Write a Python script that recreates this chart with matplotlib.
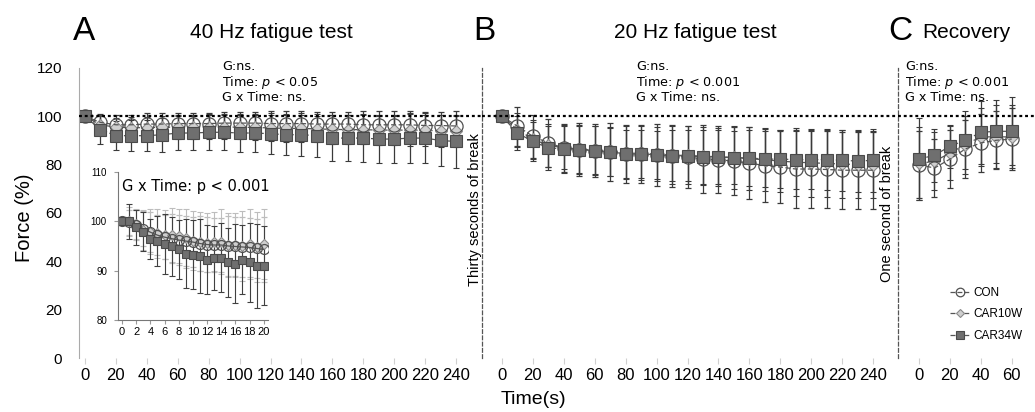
import matplotlib
matplotlib.use("Agg")
from matplotlib import pyplot as plt
from matplotlib import font_manager
from matplotlib.lines import Line2D

# %%
names = {f.name for f in font_manager.fontManager.ttflist}
narrow = 'Liberation Sans Narrow' if 'Liberation Sans Narrow' in names else 'Liberation Sans'
sans = 'Liberation Sans'
plt.rcParams['font.family'] = [sans, 'DejaVu Sans']

# %% data
time_fatigue = [0, 10, 20, 30, 40, 50, 60, 70, 80, 90, 100, 110, 120,
                130, 140, 150, 160, 170, 180, 190, 200, 210, 220, 230, 240]
time_recovery = [0, 10, 20, 30, 40, 50, 60]
time_inset = [0, 1, 2, 3, 4, 5, 6, 7, 8, 9, 10, 11, 12, 13, 14, 15, 16, 17, 18, 19, 20]

groups = ['CON', 'CAR10W', 'CAR34W']

# A: 40 Hz fatigue test
a_con = [100, 97.5, 96.5, 96.5, 96.8, 96.8, 97.0, 97.0, 97.0, 97.2, 97.2, 97.2, 97.0,
         97.0, 97.0, 96.8, 96.8, 96.8, 96.5, 96.5, 96.5, 96.5, 96.2, 96.2, 96.0]
a_car10 = [100, 96.5, 95.5, 95.3, 95.3, 95.5, 95.5, 95.5, 95.6, 95.6, 95.5, 95.4, 95.2,
           95.0, 95.0, 94.8, 94.6, 94.5, 94.5, 94.3, 94.3, 94.3, 94.2, 94.0, 93.8]
a_car34 = [100, 94.5, 92.0, 92.0, 92.0, 92.4, 93.1, 93.1, 93.4, 93.4, 93.1, 93.1, 92.8,
           92.4, 92.4, 92.0, 91.0, 91.0, 91.0, 90.6, 90.6, 91.0, 91.0, 90.0, 89.6]
a_con_sd = [0, 3.5, 4, 4, 4.5, 4.5, 4.5, 4.5, 4.5, 4.5, 4.5, 4.5, 5,
            5, 5, 5, 5, 5, 5.5, 5.5, 5.5, 5.5, 5.5, 5.5, 6]
a_car10_sd = [0, 3.5, 4, 4.5, 4.5, 4.5, 5, 5, 5, 5, 5, 5, 5.5,
              5.5, 5.5, 5.5, 6, 6, 6, 6, 6, 6.5, 6.5, 6.5, 6.5]
a_car34_sd = [0, 6, 6, 6.5, 6.5, 7, 7, 7, 7.5, 7.5, 8, 8, 8.5,
              8.5, 9, 9, 9.5, 9.5, 10, 10, 10, 10.5, 10.5, 10.5, 11]

# B: 20 Hz fatigue test
b_con = [100, 95.9, 91.7, 89.0, 86.9, 86.2, 85.8, 85.2, 84.6, 84.4, 84.0, 83.6, 83.2,
         82.3, 82.1, 81.4, 80.7, 79.6, 79.0, 78.2, 78.2, 78.0, 77.7, 77.7, 77.7]
b_car10 = [100, 94.5, 90.5, 88.0, 87.0, 86.5, 86.0, 85.5, 85.0, 84.8, 84.4, 84.0, 83.8,
           83.5, 83.3, 83.0, 82.5, 82.0, 81.5, 81.0, 80.8, 80.5, 80.3, 80.0, 80.0]
b_car34 = [100, 93.1, 89.6, 86.9, 86.6, 86.2, 85.8, 85.2, 84.5, 84.5, 84.1, 83.7, 83.7,
           83.2, 83.2, 82.8, 82.8, 82.3, 82.3, 82.1, 82.1, 82.1, 81.8, 81.5, 81.8]
b_con_sd = [0, 8, 9, 10, 10, 11, 11, 12, 12, 12, 13, 13, 13,
            14, 14, 14, 15, 15, 15, 16, 16, 16, 16, 16, 16]
b_car10_sd = [0, 7, 8, 9, 9, 10, 10, 10, 11, 11, 11, 12, 12,
              12, 12, 13, 13, 13, 13, 14, 14, 14, 14, 14, 14]
b_car34_sd = [0, 7, 8, 9, 10, 10, 10, 10, 10, 10, 10, 10.5, 10.5,
              11, 11, 11, 11.5, 11.5, 12, 12, 12, 12.5, 12.5, 13, 13]

# C: recovery
c_con = [80.0, 78.6, 82.3, 86.5, 89.0, 90.1, 90.6]
c_car10 = [80.5, 81.4, 84.8, 88.3, 91.5, 91.5, 91.5]
c_car34 = [82.3, 83.9, 87.6, 90.1, 93.4, 93.8, 93.8]
c_con_sd = [14, 12, 12, 12, 12, 12, 13]
c_car10_sd = [15, 12, 11, 12, 12, 13, 13]
c_car34_sd = [17, 11, 9, 12, 13, 13, 14]

# inset of A: first 20 contractions
i_con = [100, 99.8, 99.3, 98.5, 97.8, 97.2, 96.8, 96.5, 96.2, 96.0, 95.8,
         95.5, 95.3, 95.2, 95.2, 95.0, 94.9, 94.8, 94.7, 94.5, 94.3]
i_car10 = [100, 100, 99.5, 98.2, 97.9, 97.6, 97.3, 97.2, 97.0, 96.6, 96.1,
           95.9, 95.7, 95.9, 95.9, 95.2, 95.2, 95.0, 95.4, 94.8, 95.4]
i_car34 = [100, 100, 98.8, 97.9, 96.4, 96.0, 95.4, 94.9, 94.3, 93.4, 93.2,
           93.0, 92.2, 92.6, 92.6, 91.7, 91.4, 92.2, 91.7, 91.0, 91.0]
i_con_sd = [0, 2.5, 3, 3.5, 4, 4, 4.5, 5, 5, 5, 5, 5.5, 5.5, 5.5, 5.5, 6, 6, 6, 6, 6, 6.5]
i_car10_sd = [0, 3, 3, 4, 4.5, 5, 5, 5.5, 5.5, 6, 6, 6, 6, 6, 6.5, 6.5, 6.5, 7, 7, 7, 7]
i_car34_sd = [0, 3.5, 3.5, 4, 4, 5, 6, 6, 6, 7, 7, 7.5, 7, 6.5, 7, 7, 8, 7, 8, 8.5, 8]

# %% styles
style = {
    'CON': dict(marker='o', mfc='none', mec='#505050', ms=9.5, mew=0.9),
    'CAR10W': dict(marker='D', mfc='#cfcfcf', mec='#8a8a8a', ms=6.5, mew=0.8),
    'CAR34W': dict(marker='s', mfc='#6f6f6f', mec='#4a4a4a', ms=8, mew=0.8),
}
W, H = 1035, 412


def rect(x0, y0, x1, y1):
    return [x0 / W, 1 - y1 / H, (x1 - x0) / W, (y1 - y0) / H]


def draw_series(ax, t, series, sds, ecolor='#3a3a3a'):
    for g in ['CAR10W', 'CON', 'CAR34W']:
        ax.errorbar(t, series[g], yerr=sds[g], ls='--', dashes=(4, 2), lw=0.9,
                    color='#555555', ecolor=ecolor, elinewidth=0.9, capsize=2.2,
                    capthick=0.9, **style[g])


def base_axes(ax, xlim, xticks, left_dashed):
    ax.set_xlim(*xlim)
    ax.set_ylim(0, 120)
    ax.set_xticks(xticks)
    ax.set_xticklabels([str(v) for v in xticks], family=narrow, fontsize=12)
    ax.tick_params(axis='x', length=4, color='#d0d0d0', pad=3)
    for s in ['top', 'right', 'bottom']:
        ax.spines[s].set_visible(False)
    if left_dashed:
        ax.spines['left'].set_linestyle((0, (3, 2)))
        ax.spines['left'].set_color('#555555')
        ax.spines['left'].set_linewidth(0.9)
        ax.set_yticks([])
    else:
        ax.spines['left'].set_color('#aaaaaa')
        ax.set_yticks([0, 20, 40, 60, 80, 100, 120])
        ax.tick_params(axis='y', length=0, labelsize=11, pad=12)
    ax.axhline(100, color='black', ls=(0, (1.3, 1.3)), lw=1.6, zorder=5)
    ax.patch.set_alpha(0)


fig = plt.figure(figsize=(W / 100, H / 100), dpi=100)

px = 1.546  # pixels per second
ax_a = fig.add_axes(rect(79, 68, 482, 358))
base_axes(ax_a, (-(85 - 79) / px, (482 - 85) / px), time_fatigue[::2], False)
ax_b = fig.add_axes(rect(482, 68, 898, 358))
base_axes(ax_b, (-(502 - 482) / px, (898 - 502) / px), time_fatigue[::2], True)
ax_c = fig.add_axes(rect(898, 68, 1035, 358))
base_axes(ax_c, (-(919 - 898) / px, (1035 - 919) / px), time_recovery[::2], True)

draw_series(ax_a, time_fatigue,
            {'CON': a_con, 'CAR10W': a_car10, 'CAR34W': a_car34},
            {'CON': a_con_sd, 'CAR10W': a_car10_sd, 'CAR34W': a_car34_sd})
draw_series(ax_b, time_fatigue,
            {'CON': b_con, 'CAR10W': b_car10, 'CAR34W': b_car34},
            {'CON': b_con_sd, 'CAR10W': b_car10_sd, 'CAR34W': b_car34_sd})
draw_series(ax_c, time_recovery,
            {'CON': c_con, 'CAR10W': c_car10, 'CAR34W': c_car34},
            {'CON': c_con_sd, 'CAR10W': c_car10_sd, 'CAR34W': c_car34_sd})

# %% inset
ax_i = fig.add_axes(rect(118, 172, 268, 320))
ax_i.patch.set_alpha(0)
ax_i.set_xlim(-0.56, 20.6)
ax_i.set_ylim(80, 110)
ax_i.set_xticks(time_inset[::2])
ax_i.set_yticks([80, 90, 100, 110])
ax_i.tick_params(axis='x', labelsize=8, length=3, color='#999999', pad=2)
ax_i.tick_params(axis='y', labelsize=7, length=3, color='#999999', pad=5)
for lab in ax_i.get_xticklabels() + ax_i.get_yticklabels():
    lab.set_family(narrow)
for s in ['top', 'right']:
    ax_i.spines[s].set_visible(False)
for s in ['left', 'bottom']:
    ax_i.spines[s].set_color('#777777')
for g, vals, sd, ec in [('CAR10W', i_car10, i_car10_sd, '#bdbdbd'),
                        ('CON', i_con, i_con_sd, '#bdbdbd'),
                        ('CAR34W', i_car34, i_car34_sd, '#404040')]:
    st = dict(style[g])
    st['ms'] = st['ms'] * 0.75
    ax_i.errorbar(time_inset, vals, yerr=sd, ls='-', lw=0.9, color='#555555',
                  ecolor=ec, elinewidth=0.8, capsize=2, capthick=0.8, **st)
ax_i.text(0.03, 0.9, 'G x Time: p < 0.001', transform=ax_i.transAxes,
          family='DejaVu Sans', fontsize=10.5, va='center', ha='left')

# %% texts
def ftext(x, y, s, **kw):
    fig.text(x / W, 1 - y / H, s, **kw)


ftext(84, 31, 'A', fontsize=24, ha='center', va='center')
ftext(484, 31, 'B', fontsize=24, ha='center', va='center')
ftext(900, 31, 'C', fontsize=24, ha='center', va='center')
ftext(271, 32, '40 Hz fatigue test', fontsize=15, ha='center', va='center')
ftext(695, 32, '20 Hz fatigue test', fontsize=15, ha='center', va='center')
ftext(922, 32, 'Recovery', fontsize=15, ha='left', va='center')

stats_a = 'G:ns.\nTime: $p$ < 0.05\nG x Time: ns.'
stats_b = 'G:ns.\nTime: $p$ < 0.001\nG x Time: ns.'
for x0, s in [(222, stats_a), (636, stats_b), (905, stats_b)]:
    ftext(x0, 60, s, family='DejaVu Sans', fontsize=9.2, ha='left', va='top',
          linespacing=1.05)

ftext(475, 210, 'Thirty seconds of break', rotation=90, fontsize=10.5,
      ha='center', va='center')
ftext(887, 214, 'One second of break', rotation=90, fontsize=10.5,
      ha='center', va='center')
ftext(25, 218, 'Force (%)', rotation=90, fontsize=14.5, ha='center', va='center')
ftext(533, 399, 'Time(s)', family=narrow, fontsize=14, ha='center', va='center')

# %% legend
handles = []
for g in groups:
    st = dict(style[g])
    st['ms'] = st['ms'] * 0.65
    handles.append(Line2D([], [], ls='--', dashes=(4, 1.5), lw=0.9,
                          color='#555555', **st))
ax_c.legend(handles, groups, loc='center left', bbox_to_anchor=(0.3, 0.15),
            frameon=False, handlelength=1.7, handletextpad=0.3, labelspacing=0.8,
            prop={'family': narrow, 'size': 8.5})

fig.savefig('out.png', dpi=100)
